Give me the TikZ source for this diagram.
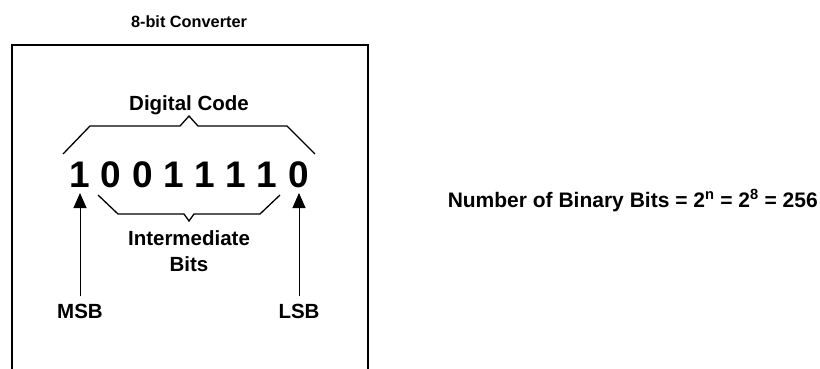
\documentclass[tikz,border=0pt]{standalone}
\usepackage{fontspec}
\setmainfont{Liberation Sans}
\usetikzlibrary{arrows.meta}

\begin{document}
\begin{tikzpicture}[x=1pt,y=-1pt,
    lbl/.style={font=\bfseries\fontsize{20.5}{24}\selectfont, inner sep=0pt, anchor=base},
    bit/.style={font=\bfseries\fontsize{37}{40}\selectfont, inner sep=0pt, anchor=base},
    brace/.style={line width=1.3pt},
    ptr/.style={-{Triangle[width=13pt,length=15pt]}, line width=1pt, shorten >=6pt, shorten <=7pt}]
   % 1pt = 1px of the 820 x 368 frame
   \useasboundingbox (0,0) rectangle (820,368);

   \draw[line width=2.5pt] (12,372) -- (12,45) -- (368,45) -- (368,372);
   \node[lbl, font=\bfseries\fontsize{16.3}{19}\selectfont] (title) at (189,27) {8-bit Converter};

   \node[lbl] (code) at (189,110) {Digital Code};
   \draw[brace] (63,154) -- (90,126) -- (180,126) -- (189,116)
                -- (198,126) -- (287,126) -- (315,154);

   \foreach \d [count=\i from 0] in {1,0,0,1,1,1,1,0} {
     \node[bit] (b\i) at (80+31.2*\i,187) {\d};
   }

   \draw[brace] (98,195) -- (118,214) -- (184,214) -- (189,221)
                -- (194,214) -- (260,214) -- (280,195);
   \node[lbl] (mid) at (189,245) {Intermediate};
   \node[lbl] (bits) at (189,271) {Bits};

   \node[lbl] (msb) at (80,318) {MSB};
   \node[lbl] (lsb) at (299,318) {LSB};
   \draw[ptr] (msb.north) -- (msb.north |- b0.base);
   \draw[ptr] (lsb.north) -- (lsb.north |- b7.base);

   \node[lbl, font=\bfseries\fontsize{21}{24}\selectfont, anchor=base east] (count) at (818,207)
     {Number of Binary Bits = 2\textsuperscript{n} = 2\textsuperscript{8} = 256};
\end{tikzpicture}
\end{document}
